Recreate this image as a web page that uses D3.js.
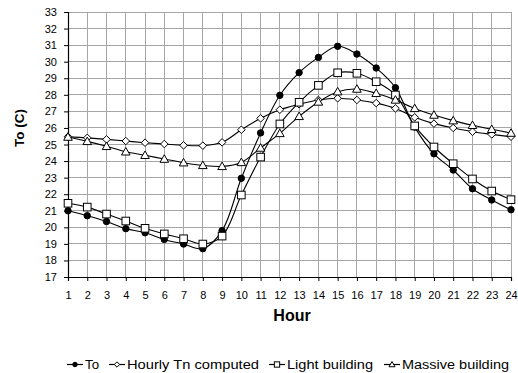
<!DOCTYPE html>
<html><head><meta charset="utf-8">
<script src="https://cdn.jsdelivr.net/npm/d3@7"></script>
<style>body{margin:0;background:#fff}svg{display:block}text{font-family:"Liberation Sans",Arial,sans-serif}</style>
</head><body><svg id="c" width="518" height="373"></svg>
<script>
const hours = d3.range(1, 25);
const yTicks = d3.range(17, 34);
const seriesNames = ["To", "Hourly Tn computed", "Light building", "Massive building"];
const toVals = [21.0,20.7,20.35,19.92,19.67,19.27,18.99,18.71,19.8,22.96,25.7,27.97,29.34,30.26,30.93,30.46,29.62,28.43,26.05,24.44,23.46,22.33,21.65,21.06];
const tnVals = [25.47,25.4,25.31,25.21,25.11,25.03,24.95,24.93,25.13,25.89,26.58,27.1,27.43,27.69,27.79,27.69,27.5,27.18,26.64,26.26,26.0,25.77,25.61,25.47];
const lightVals = [21.45,21.22,20.8,20.38,19.94,19.6,19.31,18.99,19.47,21.95,24.24,26.24,27.55,28.57,29.33,29.3,28.79,27.99,26.12,24.85,23.84,22.92,22.19,21.67];
const massiveVals = [25.45,25.19,24.89,24.56,24.35,24.12,23.9,23.74,23.68,23.92,24.79,25.67,26.7,27.57,28.19,28.35,28.09,27.69,27.18,26.78,26.44,26.16,25.92,25.69];
const seriesVals = [toVals, tnVals, lightVals, massiveVals];
const markers = ["circle", "diamond", "square", "triangle"];

const svg = d3.select("#c");
const L = 68, R = 511, T = 12, B = 277;
const x = d3.scaleLinear().domain([1, 24]).range([L, R]);
const y = d3.scaleLinear().domain([17, 33]).range([B, T]);

// grid
const g = svg.append("g");
g.selectAll(".vg").data(hours).join("line")
  .attr("x1", d => x(d)).attr("x2", d => x(d)).attr("y1", T).attr("y2", B)
  .attr("stroke", "#a6a6a6").attr("stroke-width", 1).attr("shape-rendering", "crispEdges");
g.selectAll(".hg").data(yTicks).join("line")
  .attr("x1", L).attr("x2", R).attr("y1", d => y(d)).attr("y2", d => y(d))
  .attr("stroke", "#a6a6a6").attr("stroke-width", 1).attr("shape-rendering", "crispEdges");

// axes
const xAxis = svg.append("g").attr("transform", `translate(0,${B})`)
  .call(d3.axisBottom(x).tickValues(hours).tickFormat(d3.format("d")).tickSize(4).tickPadding(10));
const yAxis = svg.append("g").attr("transform", `translate(${L},0)`)
  .call(d3.axisLeft(y).tickValues(yTicks).tickFormat(d3.format("d")).tickSize(4).tickPadding(7));
[xAxis, yAxis].forEach(a => {
  a.select(".domain").attr("stroke", "#000").attr("stroke-width", 1.2);
  a.selectAll(".tick line").attr("stroke", "#000");
  a.selectAll("text").attr("font-size", 11).attr("fill", "#000").attr("font-family", "Liberation Sans, Arial, sans-serif");
});

// axis titles
svg.append("text").attr("x", 292).attr("y", 321).attr("text-anchor", "middle")
  .attr("font-size", 16).attr("font-weight", "bold").text("Hour");
svg.append("text").attr("transform", "translate(23.5,128) rotate(-90)").attr("text-anchor", "middle")
  .attr("font-size", 13.5).attr("font-weight", "bold").text("To (C)");

function drawMarker(sel, type, s) {
  if (type === "circle") {
    sel.append("circle").attr("r", 3.2 * s).attr("fill", "#000").attr("stroke", "#000");
  } else if (type === "diamond") {
    const r = 3.8 * s;
    sel.append("path").attr("d", `M0,${-r}L${r},0L0,${r}L${-r},0Z`).attr("fill", "#fff").attr("stroke", "#000").attr("stroke-width", 1);
  } else if (type === "square") {
    const r = 3.8 * s;
    sel.append("rect").attr("x", -r).attr("y", -r).attr("width", 2 * r).attr("height", 2 * r).attr("fill", "#fff").attr("stroke", "#000").attr("stroke-width", 1);
  } else {
    const r = 4.3 * s;
    sel.append("path").attr("d", `M0,${-r}L${r},${r * 0.75}L${-r},${r * 0.75}Z`).attr("fill", "#fff").attr("stroke", "#000").attr("stroke-width", 1);
  }
}

const line = d3.line().x((d, i) => x(hours[i])).y(d => y(d)).curve(d3.curveCatmullRom.alpha(0.5));
seriesVals.forEach((vals, k) => {
  svg.append("path").attr("d", line(vals)).attr("fill", "none").attr("stroke", "#000").attr("stroke-width", 1.1);
});
seriesVals.forEach((vals, k) => {
  vals.forEach((v, i) => {
    const m = svg.append("g").attr("transform", `translate(${x(hours[i])},${y(v)})`);
    drawMarker(m, markers[k], 1);
  });
});

// legend
const legX = [67, 109, 269, 384];
const legW = [14, 132, 86, 107];
const lg = svg.append("g");
seriesNames.forEach((n, k) => {
  const gy = 364.5;
  lg.append("line").attr("x1", legX[k]).attr("x2", legX[k] + 16).attr("y1", gy).attr("y2", gy).attr("stroke", "#000").attr("stroke-width", 1.2);
  const m = lg.append("g").attr("transform", `translate(${legX[k] + 8},${gy})`);
  drawMarker(m, markers[k], 0.7);
  lg.append("text").attr("x", legX[k] + 18).attr("y", gy + 4.8).attr("font-size", 12.5)
    .attr("textLength", legW[k]).attr("lengthAdjust", "spacingAndGlyphs").text(n);
});
</script></body></html>
